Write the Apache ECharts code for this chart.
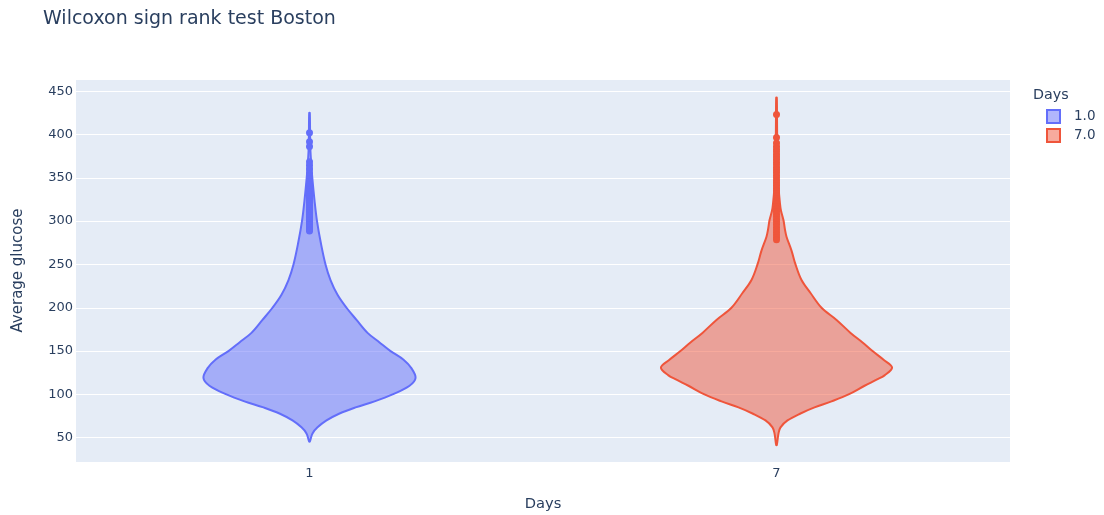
<!DOCTYPE html>
<html>
<head>
<meta charset="utf-8">
<script src="https://cdn.jsdelivr.net/npm/echarts@6/dist/echarts.min.js"></script>
<style>html,body{margin:0;padding:0;background:#fff;}#chart{width:1104px;height:515px;}</style>
</head>
<body>
<div id="chart"></div>
<script>
// Categories (Days)
var categories = ['1', '7'];
var legendNames = ['1.0', '7.0'];

// Violin profiles: glucose value and relative density (half-width)
var day1Values  = [45.5, 55, 62, 70, 78, 85, 92, 100, 110, 119, 130, 140, 150, 160, 171, 186, 200, 215, 232, 250, 275, 300, 324, 351, 365, 380, 400, 425];
var day1Density = [0.3, 3, 8, 17, 30, 46, 65, 83, 100, 106, 102, 94, 81, 70, 58, 47, 37, 28, 21, 16, 11.3, 7.5, 5, 2.7, 1.8, 1, 0.6, 0.3];

var day7Values  = [41.5, 55, 62, 70, 78, 85, 92, 100, 110, 117, 122, 131, 140, 150, 160, 171, 186, 200, 217, 232, 250, 266, 282, 290, 301, 312, 320, 340, 360, 380, 420, 442.5];
var day7Density = [0.3, 2, 4, 11, 24, 38, 55, 72, 88, 100, 108, 115.5, 107, 96, 86, 74, 60, 45, 34, 25, 19, 15, 10, 8.5, 7, 4.5, 3.5, 2, 1.2, 0.8, 0.5, 0.3];

// Outlier points
var day1Outliers = [402, 391.5, 386, 368.5, 364.5, 360, 355, 352, 349, 346, 344, 342, 340, 338, 336, 334, 332, 330, 328, 326, 324, 322, 320, 318, 316, 314, 312, 310, 308, 306, 304, 302, 300, 298, 296, 294, 292, 290, 288.5];
var day7Outliers = [423, 396.5, 390, 386, 383, 380, 377, 374, 371, 368, 365, 362, 359, 356, 353, 350, 347, 344, 341, 338, 335, 332, 329, 326, 323, 320, 317, 314, 311, 308, 305, 302, 299, 296, 293, 290, 287, 284, 281, 278.5];

var colors = ['#636efa', '#EF553B'];
var fills = ['rgba(99,110,250,0.5)', 'rgba(239,85,59,0.5)'];
var densityMax = 115.5;
var maxHalfWidth = 0.2475; // in category band units

var profiles = [
  {values: day1Values, density: day1Density},
  {values: day7Values, density: day7Density}
];

function makeRender(idx) {
  return function (params, api) {
    var prof = profiles[idx];
    var band = api.size([1, 0])[0];
    var right = [], left = [];
    for (var i = 0; i < prof.values.length; i++) {
      var c = api.coord([idx, prof.values[i]]);
      var hw = prof.density[i] / densityMax * maxHalfWidth * band;
      right.push([c[0] + hw, c[1]]);
      left.unshift([c[0] - hw, c[1]]);
    }
    var pts = right.concat(left);
    return {
      type: 'polygon',
      shape: {points: pts, smooth: 0.35},
      style: {fill: fills[idx], stroke: colors[idx], lineWidth: 2}
    };
  };
}

function toPoints(idx, arr) {
  return arr.map(function (v) { return [idx, v]; });
}

var chart = echarts.init(document.getElementById('chart'), null, {renderer: 'canvas'});
var font = "'DejaVu Sans', Verdana, sans-serif";
var txt = '#2a3f5f';
chart.setOption({
  animation: false,
  textStyle: {fontFamily: font},
  title: [
    {text: 'Wilcoxon sign rank test Boston', left: 43, top: 10, padding: 0,
     textStyle: {fontSize: 19, fontWeight: 'normal', color: txt, fontFamily: font}},
    {text: 'Days', left: 1033, top: 88, padding: 0,
     textStyle: {fontSize: 14.3, fontWeight: 'normal', color: txt, fontFamily: font}}
  ],
  legend: {
    orient: 'vertical',
    left: 1046,
    top: 109,
    padding: 0,
    itemWidth: 13,
    itemHeight: 13,
    itemGap: 4,
    textStyle: {fontSize: 13.5, color: txt, fontFamily: font, padding: [0, 0, 0, 9]},
    data: [
      {name: legendNames[0], icon: 'rect', itemStyle: {color: fills[0], borderColor: colors[0], borderWidth: 2}},
      {name: legendNames[1], icon: 'rect', itemStyle: {color: fills[1], borderColor: colors[1], borderWidth: 2}}
    ]
  },
  grid: {left: 76, right: 94, top: 79, bottom: 53, show: true, backgroundColor: '#E5ECF6', borderWidth: 0,
         containLabel: false, outerBoundsMode: 'none'},
  xAxis: {
    type: 'category',
    data: categories,
    boundaryGap: true,
    axisLine: {show: false},
    axisTick: {show: false},
    splitLine: {show: false},
    axisLabel: {color: txt, fontSize: 13, margin: 5, fontFamily: font},
    name: 'Days',
    nameLocation: 'middle',
    nameGap: 35,
    nameTextStyle: {color: txt, fontSize: 14.7, fontFamily: font}
  },
  yAxis: {
    type: 'value',
    min: 22,
    max: 464,
    splitNumber: 9,
    axisLine: {show: false},
    axisTick: {show: false},
    splitLine: {show: true, lineStyle: {color: '#ffffff', width: 1}},
    axisLabel: {color: txt, fontSize: 13, margin: 3, showMinLabel: false, showMaxLabel: false, fontFamily: font},
    name: 'Average glucose',
    nameLocation: 'middle',
    nameRotate: 90,
    nameGap: 50,
    nameTextStyle: {color: txt, fontSize: 15, fontFamily: font}
  },
  series: [
    {name: legendNames[0], type: 'custom', renderItem: makeRender(0), data: [[0, 150]], z: 1, silent: true,
     itemStyle: {color: fills[0], borderColor: colors[0]}},
    {name: legendNames[1], type: 'custom', renderItem: makeRender(1), data: [[1, 150]], z: 1, silent: true,
     itemStyle: {color: fills[1], borderColor: colors[1]}},
    {name: legendNames[0], type: 'scatter', data: toPoints(0, day1Outliers), symbol: 'circle', symbolSize: 7, z: 5,
     itemStyle: {color: colors[0], opacity: 1}},
    {name: legendNames[1], type: 'scatter', data: toPoints(1, day7Outliers), symbol: 'circle', symbolSize: 7, z: 5,
     itemStyle: {color: colors[1], opacity: 1}}
  ]
});
</script>
</body>
</html>
